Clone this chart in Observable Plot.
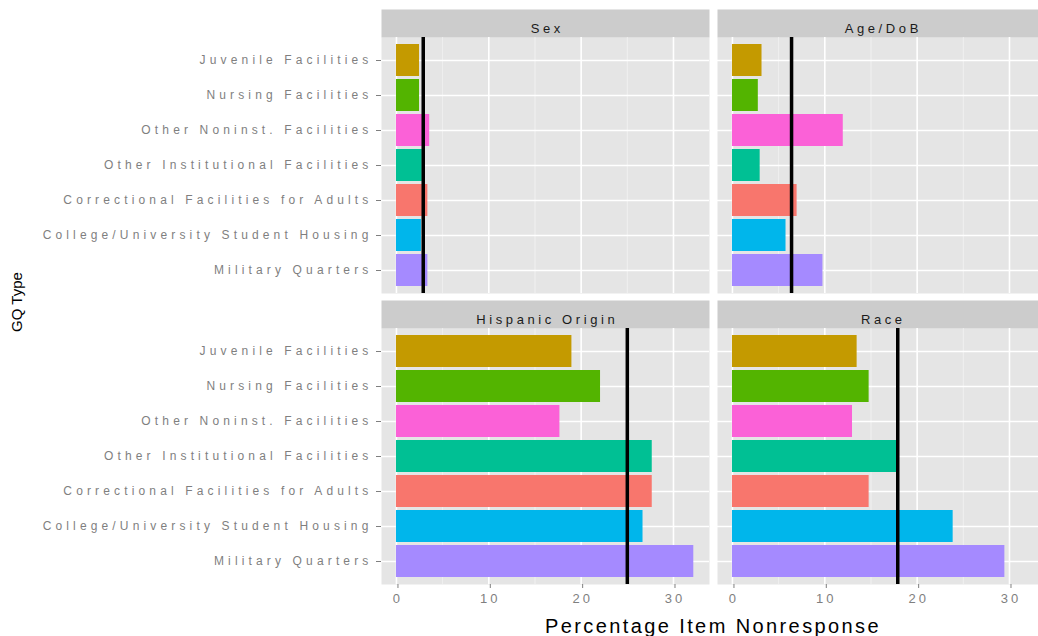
<!DOCTYPE html>
<html>
<head>
<meta charset="utf-8">
<script src="https://cdn.jsdelivr.net/npm/d3@7"></script>
<script src="https://cdn.jsdelivr.net/npm/@observablehq/plot@0.6"></script>
<style>
  html, body { margin: 0; padding: 0; background: white; overflow: hidden; }
  #wrap { position: relative; width: 1038px; height: 636px; overflow: hidden; font-family: "Liberation Sans", Arial, sans-serif; }
  #chart { position: absolute; left: 0; top: 0; width: 1046px; }
  #chart svg { max-width: none !important; }
  .xtitle { position: absolute; left: 380px; width: 666px; top: 615px; text-align: center; font-size: 20px; letter-spacing: 2.4px; color: #000; white-space: nowrap; }
  .ytitle { position: absolute; left: 16px; top: 302px; transform: translate(-50%, -50%) rotate(-90deg); font-size: 15px; color: #000; white-space: nowrap; }
  #chart g[aria-label="y-axis tick label"] text { letter-spacing: 4.15px; }
  #chart g[aria-label="x-axis tick label"] text { letter-spacing: 3px; }
  #chart g[aria-label="text"] text { letter-spacing: 3.6px; }
</style>
</head>
<body>
<div id="wrap">
  <div id="chart"></div>
  <div class="xtitle">Percentage Item Nonresponse</div>
  <div class="ytitle">GQ Type</div>
</div>
<script>
const categories = [
  "Juvenile Facilities",
  "Nursing Facilities",
  "Other Noninst. Facilities",
  "Other Institutional Facilities",
  "Correctional Facilities for Adults",
  "College/University Student Housing",
  "Military Quarters"
];
const categoryColors = ["#C49A00", "#53B400", "#FB61D7", "#00C094", "#F8766D", "#00B6EB", "#A58AFF"];
const items = ["Sex", "Age/DoB", "Hispanic Origin", "Race"];
const sexValues = [2.5, 2.5, 3.6, 2.8, 3.4, 2.7, 3.4];
const ageValues = [3.2, 2.8, 12.0, 3.0, 7.0, 5.8, 9.8];
const hispanicValues = [19.0, 22.1, 17.7, 27.7, 27.7, 26.7, 32.2];
const raceValues = [13.5, 14.8, 13.0, 17.8, 14.8, 23.9, 29.5];
const averages = [2.9, 6.4, 25.0, 17.9];
const xTicks = [0, 10, 20, 30];
const xMinorTicks = [5, 15, 25];

const seriesValues = [sexValues, ageValues, hispanicValues, raceValues];
const rows = [];
items.forEach((item, k) => {
  seriesValues[k].forEach((v, i) => {
    rows.push({item, col: k % 2, row: Math.floor(k / 2), cat: categories[i], color: categoryColors[i], value: v});
  });
});
const facetInfo = items.map((item, k) => ({item, col: k % 2, row: Math.floor(k / 2), avg: averages[k]}));

const width = 1046, height = 636, mTop = 37, mBottom = 52;
const fyPad = 0.1203;
const step = (height - mTop - mBottom) / (2 - fyPad);
const panelH = step * (1 - fyPad);
const stripH = 28;

const chart = Plot.plot({
  width, height,
  marginLeft: 380, marginRight: 0, marginTop: mTop, marginBottom: mBottom,
  style: {fontFamily: "'Liberation Sans', Arial, sans-serif", background: "white", overflow: "visible", maxWidth: "none"},
  fx: {domain: [0, 1], axis: null, paddingInner: 0.0237, paddingOuter: 0},
  fy: {domain: [0, 1], axis: null, paddingInner: fyPad, paddingOuter: 0},
  x: {domain: [-1.62, 33.9]},
  y: {domain: categories, paddingInner: 0.1, paddingOuter: 0.15, align: 0.5},
  marks: [
    Plot.frame({fill: "#E5E5E5"}),
    Plot.frame({fill: "#CCCCCC", insetTop: -stripH, insetBottom: panelH}),
    Plot.gridX(xMinorTicks, {stroke: "#F2F2F2", strokeOpacity: 1, strokeWidth: 0.8}),
    Plot.gridX(xTicks, {stroke: "white", strokeOpacity: 1, strokeWidth: 1.6}),
    Plot.gridY(categories, {stroke: "white", strokeOpacity: 1, strokeWidth: 1.6}),
    Plot.barX(rows, {x: "value", y: "cat", fill: "color", fx: "col", fy: "row"}),
    Plot.ruleX(facetInfo, {x: "avg", fx: "col", fy: "row", stroke: "black", strokeWidth: 3.5}),
    Plot.text(facetInfo, {fx: "col", fy: "row", text: "item", frameAnchor: "top", dy: -stripH / 2, dx: 1.8, fontSize: 13, fill: "#1A1A1A"}),
    Plot.axisX(xTicks, {anchor: "bottom", tickSize: 4, tickPadding: 5, fontSize: 13, color: "#7F7F7F", label: null, dx: 1.5}),
    Plot.axisY(categories, {anchor: "left", tickSize: 5, tickPadding: 4, fontSize: 12, color: "#7F7F7F", label: null})
  ]
});
document.getElementById("chart").appendChild(chart);
</script>
</body>
</html>
